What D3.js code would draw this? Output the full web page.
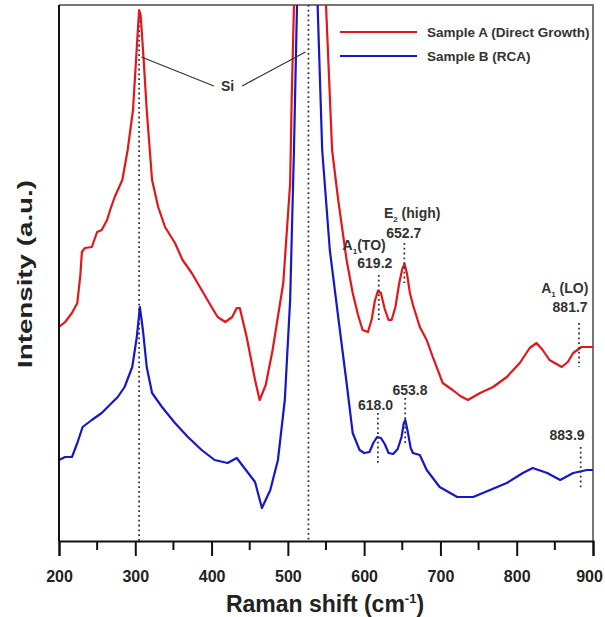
<!DOCTYPE html>
<html>
<head>
<meta charset="utf-8">
<script src="https://cdn.jsdelivr.net/npm/d3@7"></script>
<style>
  body { margin: 0; background: #fff; }
  text { font-family: "Liberation Sans", Arial, sans-serif; fill: #222; }
</style>
</head>
<body>
<svg id="chart" width="605" height="617"></svg>
<script>
// Raman shift (cm-1) and intensity (a.u.)
const shiftA = [200, 208, 217, 224, 228, 230, 234, 243, 250, 256, 263, 267, 273, 283, 290, 297, 301, 305, 307, 311, 315, 322, 330, 339, 352, 362, 374, 387, 400, 408, 418, 427, 433, 437, 446, 457, 463, 471, 480, 494, 503, 505, 508, 512, 520, 527, 538, 546, 550, 558, 566, 577, 585, 592, 598, 605, 610, 614, 618, 622, 627, 632, 636, 641, 646, 650, 653, 656, 660, 664, 673, 682, 690, 703, 716, 726, 736, 752, 769, 787, 804, 817, 826, 834, 843, 859, 867, 874, 885, 900]
const intensityA = [214, 219, 228, 238, 266, 289, 293, 294, 309, 311, 321, 331, 344, 361, 391, 431, 481, 531, 526, 481, 431, 361, 334, 314, 298, 281, 268, 251, 234, 224, 219, 224, 233, 233, 204, 161, 141, 156, 191, 258, 358, 441, 536, 720, 1000, 1150, 1000, 720, 536, 391, 341, 281, 248, 226, 211, 209, 222, 240, 250, 248, 232, 221, 221, 234, 258, 272, 277, 268, 248, 236, 214, 201, 184, 158, 151, 145, 141, 148, 154, 164, 178, 193, 198, 191, 181, 174, 179, 188, 194, 194]

const shiftB = [200, 208, 217, 224, 231, 243, 256, 269, 277, 286, 296, 302, 306, 310, 315, 322, 335, 352, 369, 387, 404, 421, 433, 440, 448, 457, 466, 477, 487, 496, 503, 508, 512, 518, 526, 533, 539, 545, 555, 566, 577, 585, 594, 600, 607, 612, 617, 622, 627, 632, 638, 644, 649, 652, 654, 657, 661, 664, 673, 682, 699, 722, 743, 765, 787, 808, 821, 840, 857, 874, 892, 900]
const intensityB = [81, 84, 84, 98, 114, 121, 128, 138, 144, 154, 174, 204, 234, 211, 174, 148, 134, 118, 104, 91, 81, 78, 83, 76, 68, 59, 33, 51, 81, 141, 241, 391, 536, 800, 950, 800, 536, 391, 291, 224, 158, 108, 91, 88, 89, 98, 104, 103, 97, 88, 87, 92, 104, 118, 121, 110, 93, 88, 86, 71, 54, 44, 44, 51, 58, 68, 73, 68, 61, 68, 71, 71]

const seriesNames = ['Sample A (Direct Growth)', 'Sample B (RCA)']
const seriesColors = ['#e3161b', '#1717c8']

const xTicks = [200, 300, 400, 500, 600, 700, 800, 900]
const xMinorTicks = [250, 350, 450, 550, 650, 750, 850]

// Si reference lines
const siLines = [305, 527]

// peak labels: position of the peak, label text, anchor of the text
const peakMarksA = [
  { x: 619.2, y0: 266, y1: 221, label: '619.2', lx: 614, ly: 278 },
  { x: 652.7, y0: 298, y1: 258, label: '652.7', lx: 652, ly: 308 },
  { x: 881.7, y0: 218, y1: 174, label: '881.7', lx: 870, ly: 234 }
]
const peakMarksB = [
  { x: 618.0, y0: 128, y1: 78, label: '618.0', lx: 615, ly: 136 },
  { x: 653.8, y0: 143, y1: 98, label: '653.8', lx: 660, ly: 151 },
  { x: 883.9, y0: 94, y1: 51, label: '883.9', lx: 866, ly: 106 }
]
const modeLabels = [
  { main: 'A', sub: '1', rest: '(TO)', lx: 600, ly: 296 },
  { main: 'E', sub: '2', rest: ' (high)', lx: 663, ly: 328 },
  { main: 'A', sub: '1', rest: ' (LO)', lx: 863, ly: 253 }
]

const margin = { left: 59, right: 12, top: 5, bottom: 76 }
const width = 605 - margin.left - margin.right
const height = 617 - margin.top - margin.bottom

const svg = d3.select('#chart')
const g = svg.append('g').attr('transform', 'translate(' + margin.left + ',' + margin.top + ')')

const xScale = d3.scaleLinear().domain([200, 900]).range([0, width])
const yScale = d3.scaleLinear().domain([0, 536]).range([height, 0])

g.append('clipPath').attr('id', 'clip')
  .append('rect').attr('width', width).attr('height', height)

// frame: grey top and right edges
g.append('path')
  .attr('d', 'M0,0H' + width + 'V' + height)
  .attr('fill', 'none').attr('stroke', '#777').attr('stroke-width', 2)

// dotted Si lines
g.selectAll('.si')
  .data(siLines)
  .enter().append('line')
  .attr('x1', (d) => xScale(d)).attr('x2', (d) => xScale(d))
  .attr('y1', (d, i) => i === 0 ? yScale(530) : 0).attr('y2', height)
  .attr('stroke', '#333').attr('stroke-width', 1.8).attr('stroke-dasharray', '1.8,3')

// spectra
const lineGen = d3.line().x((d) => xScale(d[0])).y((d) => yScale(d[1]))
const spectra = [d3.zip(shiftA, intensityA), d3.zip(shiftB, intensityB)]
g.append('g').attr('clip-path', 'url(#clip)')
  .selectAll('path')
  .data(spectra)
  .enter().append('path')
  .attr('d', lineGen)
  .attr('fill', 'none')
  .attr('stroke', (d, i) => seriesColors[i])
  .attr('stroke-width', 2.2)
  .attr('stroke-linejoin', 'round')

// peak marks
const marks = peakMarksA.concat(peakMarksB)
g.selectAll('.mark')
  .data(marks)
  .enter().append('line')
  .attr('x1', (d) => xScale(d.x)).attr('x2', (d) => xScale(d.x))
  .attr('y1', (d) => yScale(d.y0)).attr('y2', (d) => yScale(d.y1))
  .attr('stroke', '#333').attr('stroke-width', 1.8).attr('stroke-dasharray', '1.8,3')

g.selectAll('.marklabel')
  .data(marks)
  .enter().append('text')
  .attr('x', (d) => xScale(d.lx)).attr('y', (d) => yScale(d.ly))
  .attr('dy', '0.35em').attr('text-anchor', 'middle')
  .style('font-size', '14px').style('font-weight', 'bold').style('fill', '#333')
  .text((d) => d.label)

const modes = g.selectAll('.mode')
  .data(modeLabels)
  .enter().append('text')
  .attr('x', (d) => xScale(d.lx)).attr('y', (d) => yScale(d.ly))
  .attr('dy', '0.35em').attr('text-anchor', 'middle')
  .style('font-size', '14px').style('font-weight', 'bold').style('fill', '#333')
modes.append('tspan').text((d) => d.main)
modes.append('tspan').attr('dy', 4).style('font-size', '8px').text((d) => d.sub)
modes.append('tspan').attr('dy', -4).text((d) => d.rest)

// Si label with leader lines
g.append('text')
  .attr('x', xScale(421)).attr('y', yScale(455))
  .attr('dy', '0.35em').attr('text-anchor', 'middle')
  .style('font-size', '14px').style('font-weight', 'bold').style('fill', '#333')
  .text('Si')
g.append('line')
  .attr('x1', xScale(308)).attr('y1', yScale(484))
  .attr('x2', xScale(403)).attr('y2', yScale(455))
  .attr('stroke', '#333').attr('stroke-width', 1.2)
g.append('line')
  .attr('x1', xScale(440)).attr('y1', yScale(455))
  .attr('x2', xScale(523)).attr('y2', yScale(489))
  .attr('stroke', '#333').attr('stroke-width', 1.2)

// x axis
const xAxis = g.append('g').attr('class', 'x axis').attr('transform', 'translate(0,' + height + ')')
xAxis.call(d3.axisBottom(xScale).tickValues(xTicks).tickSize(15).tickPadding(15).tickFormat(d3.format('d')))
xAxis.select('.domain').attr('stroke', '#111').attr('stroke-width', 2)
xAxis.selectAll('.tick line').attr('stroke', '#111').attr('stroke-width', 2)
xAxis.selectAll('text').style('font-size', '16px').style('font-weight', 'bold').style('fill', '#222')
  .attr('dx', (d) => d === 900 ? -4 : 0)
xAxis.selectAll('.minor')
  .data(xMinorTicks)
  .enter().append('line')
  .attr('x1', (d) => xScale(d)).attr('x2', (d) => xScale(d))
  .attr('y1', 0).attr('y2', 9)
  .attr('stroke', '#111').attr('stroke-width', 2)

// y axis line only
g.append('line').attr('x1', 0).attr('x2', 0).attr('y1', 0).attr('y2', height)
  .attr('stroke', '#111').attr('stroke-width', 2)

// axis titles
const xTitle = svg.append('text')
  .attr('x', 325).attr('y', 612)
  .attr('text-anchor', 'middle')
  .style('font-size', '23px').style('font-weight', 'bold')
xTitle.append('tspan').text('Raman shift (cm')
xTitle.append('tspan').attr('dy', -9).style('font-size', '13px').text('-1')
xTitle.append('tspan').attr('dy', 9).text(')')

svg.append('text')
  .attr('transform', 'translate(32,' + 274 + ') rotate(-90)')
  .attr('text-anchor', 'middle')
  .attr('textLength', 188).attr('lengthAdjust', 'spacingAndGlyphs')
  .style('font-size', '21px').style('font-weight', 'bold')
  .text('Intensity (a.u.)')

// legend
const legend = svg.append('g').attr('transform', 'translate(340,32)')
const items = legend.selectAll('g')
  .data(seriesNames)
  .enter().append('g')
  .attr('transform', (d, i) => 'translate(0,' + i * 24 + ')')
items.append('line').attr('x1', 0).attr('x2', 77)
  .attr('stroke', (d, i) => seriesColors[i]).attr('stroke-width', 2)
items.append('text').attr('x', 87).attr('dy', '0.35em')
  .style('font-size', '13.5px').style('font-weight', 'bold').style('fill', '#333')
  .text((d) => d)
</script>
</body>
</html>
